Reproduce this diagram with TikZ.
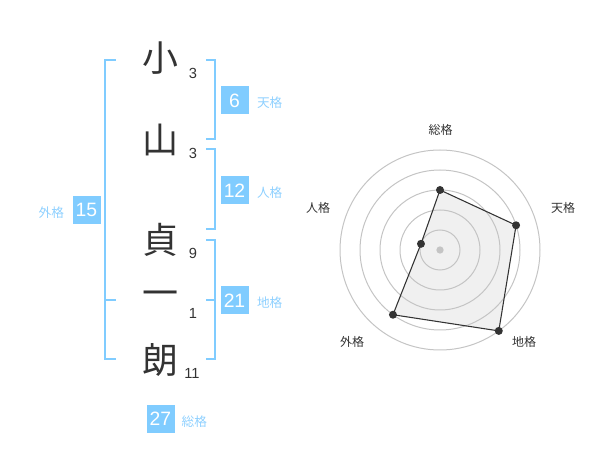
\documentclass[tikz,border=0pt]{standalone}
\usepackage{fontspec}
\setmainfont{Liberation Sans}
\newfontfamily\cjk{Noto Sans CJK JP}
\usetikzlibrary{positioning}
\definecolor{kaku}{HTML}{80CCFF}
\definecolor{kakutext}{HTML}{8ED0FF}
\definecolor{ink}{HTML}{333333}
\definecolor{ring}{HTML}{C4C4C4}
\tikzset{
  kanji/.style={font=\cjk\fontsize{27}{27}\selectfont, text=ink, inner sep=0pt},
  strokes/.style={font=\fontsize{11}{11}\selectfont, text=ink, inner sep=0pt},
  kakubox/.style={fill=kaku, text=white, font=\fontsize{14.5}{14.5}\selectfont,
    minimum size=21pt, inner sep=0pt},
  kakulabel/.style={font=\cjk\fontsize{9.5}{9.5}\selectfont, text=kakutext, inner sep=0pt},
  bracket/.style={draw=kaku, line width=1.5pt},
  axislabel/.style={font=\cjk\fontsize{9}{9}\selectfont, text=ink, inner sep=0pt},
  dot/.style={circle, fill=ink, inner sep=0pt, minimum size=6pt}
}
\begin{document}
\begin{tikzpicture}[x=0.75pt, y=-0.75pt]
  \useasboundingbox (0,0) rectangle (600,470);

  % name
  \node[kanji] (c1) at (160,58) {小};
  \node[kanji] (c2) at (160,140) {山};
  \node[kanji] (c3) at (160,240) {貞};
  \node[kanji] (c4) at (160,299) {一};
  \node[kanji] (c5) at (160,360) {朗};

  \node[strokes] (s1) at (193,73) {3};
  \node[strokes] (s2) at (193,153) {3};
  \node[strokes] (s3) at (193,253) {9};
  \node[strokes] (s4) at (193,313) {1};
  \node[strokes] (s5) at (192,373) {11};

  % brackets
  \draw[bracket] (206,60) -| (215,139.5) -- (206,139.5);
  \draw[bracket] (206,149.5) -| (215,229.5) -- (206,229.5);
  \draw[bracket] (206,240) -| (215,359.5) -- (206,359.5);
  \draw[bracket] (206,300) -- (215,300);
  \draw[bracket] (115.5,60) -| (105,359.5) -- (115.5,359.5);
  \draw[bracket] (115.5,300) -- (105,300);

  % kaku
  \node[kakubox] (ten) at (234.5,100.5) {6};
  \node[kakulabel, right=6pt of ten.east, yshift=-2pt] (tenl) {天格};
  \node[kakubox] (jin) at (234.5,190.5) {12};
  \node[kakulabel, right=6pt of jin.east, yshift=-2pt] (jinl) {人格};
  \node[kakubox] (chi) at (234.5,300.5) {21};
  \node[kakulabel, right=6pt of chi.east, yshift=-2pt] (chil) {地格};
  \node[kakubox] (gai) at (86.5,210) {15};
  \node[kakulabel, left=6pt of gai.west, yshift=-2pt] (gail) {外格};
  \node[kakubox] (so) at (160.5,419) {27};
  \node[kakulabel, right=5pt of so.east, yshift=-2pt] (sol) {総格};

  % radar
  \begin{scope}[shift={(440,250)}]
    \coordinate (p1) at (-90:60);
    \coordinate (p2) at (-18:80);
    \coordinate (p3) at (54:100);
    \coordinate (p4) at (126:80);
    \coordinate (p5) at (198:20);
    \fill[black!6] (p1) -- (p2) -- (p3) -- (p4) -- (p5) -- cycle;
    \foreach \r in {20,40,...,100}
      \draw[ring, line width=0.75pt] (0,0) circle (\r);
    \draw[ink, line width=0.8pt] (p1) -- (p2) -- (p3) -- (p4) -- (p5) -- cycle;
    \foreach \p in {p1,p2,p3,p4,p5}
      \node[dot] at (\p) {};
    \node[circle, fill=ring, inner sep=0pt, minimum size=5.5pt] (o) at (0,0) {};
  \end{scope}
  \node[axislabel] (l1) at (440.5,130) {総格};
  \node[axislabel] (l2) at (563,208) {天格};
  \node[axislabel] (l3) at (524,342) {地格};
  \node[axislabel] (l4) at (352,342) {外格};
  \node[axislabel] (l5) at (318,208) {人格};
\end{tikzpicture}
\end{document}
